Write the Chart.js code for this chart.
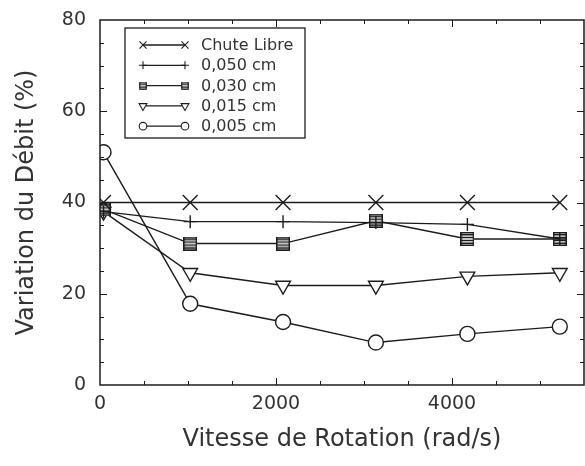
<!DOCTYPE html>
<html>
<head>
<meta charset="utf-8">
<script src="https://cdn.jsdelivr.net/npm/chart.js@4.4.1/dist/chart.umd.min.js"></script>
<style>
  html, body { margin: 0; padding: 0; background: #fff; overflow: hidden; }
  #wrap { position: relative; width: 585px; height: 466px; }
</style>
</head>
<body>
<div id="wrap"><canvas id="chart"></canvas></div>
<script>
// vitesse de rotation (rad/s)
const xValues = [40, 1025, 2080, 3135, 4175, 5225];
// variation du debit (%)
const chuteLibre = [40, 40, 40, 40, 40, 40];
const ep050 = [38, 35.8, 35.8, 35.6, 35.2, 32];
const ep030 = [38.5, 31, 31, 36, 32, 32];
const ep015 = [38, 24.6, 21.8, 21.8, 23.8, 24.6];
const ep005 = [51, 17.8, 13.8, 9.3, 11.2, 12.8];
const seriesNames = ["Chute Libre", "0,050 cm", "0,030 cm", "0,015 cm", "0,005 cm"];
const xTickLabels = [0, 2000, 4000];
const yTickLabels = [0, 20, 40, 60, 80];

const ink = "#1c1c1c";
const textInk = "#333333";
const fontFamily = '"DejaVu Sans", sans-serif';

function makeBars(size) {
  const c = document.createElement("canvas");
  c.width = size;
  c.height = size;
  const g = c.getContext("2d");
  g.fillStyle = "#ffffff";
  g.fillRect(0, 0, size, size);
  g.strokeStyle = ink;
  g.lineWidth = size > 10 ? 1.5 : 1.2;
  g.strokeRect(0.75, 0.75, size - 1.5, size - 1.5);
  const n = size > 10 ? 4 : 2;
  g.beginPath();
  for (let i = 1; i <= n; i++) {
    const yy = (i * size) / (n + 1);
    g.moveTo(0, yy);
    g.lineTo(size, yy);
  }
  g.stroke();
  return c;
}

const bigBars = makeBars(14);
const smallBars = makeBars(8);

const markers = [
  { pointStyle: "crossRot", radius: 10.5, rotation: 0 },
  { pointStyle: "cross", radius: 6.5, rotation: 0 },
  { pointStyle: bigBars, radius: 7, rotation: 0 },
  { pointStyle: "triangle", radius: 8.5, rotation: 180 },
  { pointStyle: "circle", radius: 7.5, rotation: 0 },
];
const legendMarkers = [
  { pointStyle: "crossRot", radius: 5, rotation: 0 },
  { pointStyle: "cross", radius: 4, rotation: 0 },
  { pointStyle: smallBars, radius: 4, rotation: 0 },
  { pointStyle: "triangle", radius: 4.5, rotation: 180 },
  { pointStyle: "circle", radius: 3.8, rotation: 0 },
];

const seriesValues = [chuteLibre, ep050, ep030, ep015, ep005];

function makeDataset(i) {
  return {
    label: seriesNames[i],
    data: xValues.map((x, k) => ({ x: x, y: seriesValues[i][k] })),
    borderColor: ink,
    borderWidth: 1.4,
    pointStyle: markers[i].pointStyle,
    pointRadius: markers[i].radius,
    pointRotation: markers[i].rotation,
    pointBackgroundColor: "#ffffff",
    pointBorderColor: ink,
    pointBorderWidth: 1.4,
    tension: 0,
    fill: false,
    clip: 0,
  };
}

function noPadding(scale) {
  scale.paddingLeft = 0;
  scale.paddingRight = 0;
  scale.paddingTop = 0;
  scale.paddingBottom = 0;
}

const framePlugin = {
  id: "frame",
  afterDatasetsDraw(chart) {
    const { ctx, chartArea: a, scales } = chart;
    const xs = scales.x;
    const ys = scales.y;
    ctx.save();
    ctx.strokeStyle = ink;
    ctx.lineWidth = 1.5;
    ctx.strokeRect(a.left, a.top, a.right - a.left, a.bottom - a.top);

    ctx.lineWidth = 1;
    ctx.beginPath();
    for (let v = 500; v < xs.max; v += 500) {
      const len = v % 2000 === 0 ? 7 : 4;
      const px = Math.round(xs.getPixelForValue(v)) + 0.5;
      ctx.moveTo(px, a.bottom);
      ctx.lineTo(px, a.bottom - len);
      ctx.moveTo(px, a.top);
      ctx.lineTo(px, a.top + len);
    }
    for (let v = 5; v < ys.max; v += 5) {
      const len = v % 20 === 0 ? 7 : 4;
      const py = Math.round(ys.getPixelForValue(v)) + 0.5;
      ctx.moveTo(a.left, py);
      ctx.lineTo(a.left + len, py);
      ctx.moveTo(a.right, py);
      ctx.lineTo(a.right - len, py);
    }
    ctx.stroke();

    // legend box
    const bx = a.left + 25;
    const by = a.top + 8;
    const bw = 180;
    const bh = 110;
    ctx.fillStyle = "#ffffff";
    ctx.fillRect(bx, by, bw, bh);
    ctx.lineWidth = 1.3;
    ctx.strokeRect(bx, by, bw, bh);

    ctx.font = "16px " + fontFamily;
    ctx.textBaseline = "middle";
    ctx.textAlign = "left";
    seriesNames.forEach((name, i) => {
      const yy = by + 17 + i * 20.3;
      const x1 = bx + 18;
      const x2 = bx + 60;
      ctx.strokeStyle = ink;
      ctx.lineWidth = 1.3;
      ctx.beginPath();
      ctx.moveTo(x1, yy);
      ctx.lineTo(x2, yy);
      ctx.stroke();
      ctx.fillStyle = "#ffffff";
      ctx.lineWidth = 1.1;
      const opts = {
        pointStyle: legendMarkers[i].pointStyle,
        rotation: legendMarkers[i].rotation,
        radius: legendMarkers[i].radius,
        borderWidth: 1.1,
      };
      Chart.helpers.drawPoint(ctx, opts, x1, yy);
      Chart.helpers.drawPoint(ctx, opts, x2, yy);
      ctx.fillStyle = textInk;
      ctx.fillText(name, bx + 76, yy + 1);
    });
    ctx.restore();
  },
};

new Chart(document.getElementById("chart"), {
  type: "line",
  data: {
    datasets: seriesNames.map((_, i) => makeDataset(i)),
  },
  options: {
    responsive: true,
    maintainAspectRatio: false,
    animation: false,
    layout: { autoPadding: false, padding: { top: 20, right: 1, left: 0, bottom: 0 } },
    plugins: {
      legend: { display: false },
      tooltip: { enabled: false },
    },
    scales: {
      x: {
        type: "linear",
        min: 0,
        max: 5500,
        afterFit: (scale) => { scale.height = 81; noPadding(scale); },
        afterBuildTicks: (scale) => { scale.ticks = xTickLabels.map((v) => ({ value: v })); },
        grid: { display: false, drawTicks: false },
        border: { display: false },
        ticks: {
          color: textInk,
          padding: 8,
          maxRotation: 0,
          autoSkip: false,
          font: { family: fontFamily, size: 19 },
          callback: (v) => String(v),
        },
        title: {
          display: true,
          text: "Vitesse de Rotation (rad/s)",
          color: textInk,
          font: { family: fontFamily, size: 24 },
          padding: { top: 0, bottom: 12 },
        },
      },
      y: {
        min: 0,
        max: 80,
        afterFit: (scale) => { scale.width = 100; noPadding(scale); },
        afterBuildTicks: (scale) => { scale.ticks = yTickLabels.map((v) => ({ value: v })); },
        grid: { display: false, drawTicks: false },
        border: { display: false },
        ticks: {
          color: textInk,
          padding: 14,
          autoSkip: false,
          font: { family: fontFamily, size: 19 },
          callback: (v) => String(v),
        },
        title: {
          display: true,
          text: "Variation du Débit (%)",
          color: textInk,
          font: { family: fontFamily, size: 24 },
          padding: { top: 12, bottom: 0 },
        },
      },
    },
  },
  plugins: [framePlugin],
});
</script>
</body>
</html>
